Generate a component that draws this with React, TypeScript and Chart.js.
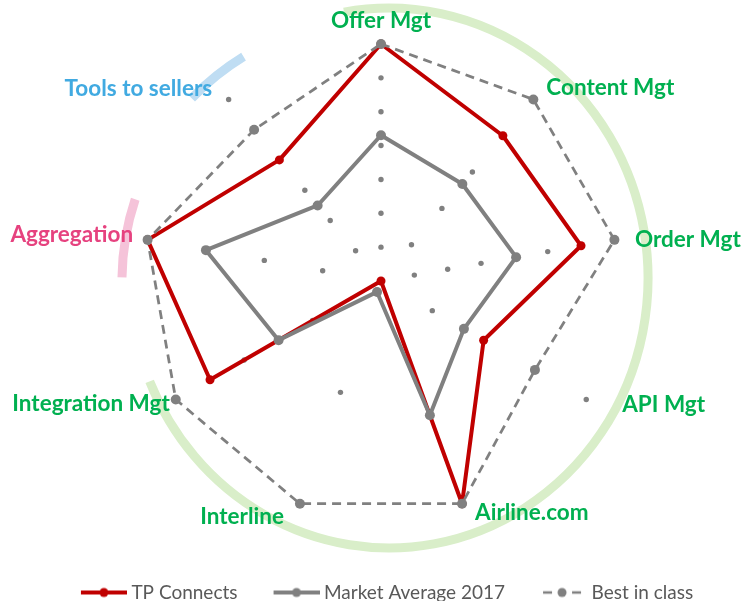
import React, { useEffect, useRef } from 'react';
import { Chart, registerables } from 'chart.js';

Chart.register(...registerables);

// ---- data ----
const categories = ['Offer Mgt', 'Content Mgt', 'Order Mgt', 'API Mgt', 'Airline.com', 'Interline', 'Integration Mgt', 'Aggregation', 'Tools to sellers'];
const tpConnects = [100, 80, 85.7, 50, 100, 0, 83.3, 100, 66.7];
const marketAverage2017 = [61.5, 53.4, 57.9, 40.4, 60.3, 4.9, 49.9, 75, 41.6];
const bestInClass = [100, 100, 100, 75, 100, 100, 100, 100, 83.3];
// number of scoring steps on each axis (dotted markers along the spokes)
const criteriaLevels = [7, 5, 7, 4, 1, 2, 3, 4, 6];
const seriesNames = ['TP Connects', 'Market Average 2017', 'Best in class'];

// ---- styles ----
const RED = '#C00000';
const GRAY = '#808080';
const GREEN = '#00B050';
const PINK = '#E6427F';
const BLUE = '#41AAE1';
const labelColors = [GREEN, GREEN, GREEN, GREEN, GREEN, GREEN, GREEN, PINK, BLUE];
// [textAlign, dx, dy] relative to the outer end of each spoke
const labelPlacement: [CanvasTextAlign, number, number][] = [
  ['center', 0, -23],
  ['left', 13, -11.5],
  ['left', 20.5, 0],
  ['left', 36, 5.5],
  ['left', 13, 9],
  ['right', -16, 13],
  ['right', -6, 4.5],
  ['right', -14.5, -5],
  ['right', -16.5, -10.5],
];
const decoArcs = [
  { color: '#D9EEC9', width: 9, ox: 8, oy: -3, rx: 1.093, ry: 1.139, from: -10, to: 247.5 },
  { color: '#BFDDF3', width: 9, ox: 0, oy: 0, rx: 1.11, ry: 1.11, from: 314, to: 328.5 },
  { color: '#F5C3D9', width: 9, ox: 0, oy: 0, rx: 1.093, ry: 1.093, from: 270.8, to: 288.4 },
];

// legend marker canvases: the visible marker sits in the right part of the image
const MARK_BOX = 53;
function legendMarker(kind: 'solid' | 'dashed', color: string) {
  const c = document.createElement('canvas');
  c.width = MARK_BOX + 10;
  c.height = 12;
  const ctx = c.getContext('2d')!;
  const end = kind === 'solid' ? c.width : c.width - 6;
  const start = kind === 'solid' ? end - 46 : end - 38;
  ctx.strokeStyle = color;
  ctx.fillStyle = color;
  ctx.beginPath();
  if (kind === 'solid') {
    ctx.lineWidth = 4;
    ctx.moveTo(start, 6);
    ctx.lineTo(end, 6);
  } else {
    ctx.lineWidth = 2.5;
    ctx.moveTo(start, 6);
    ctx.lineTo(start + 9, 6);
    ctx.moveTo(end - 9, 6);
    ctx.lineTo(end, 6);
  }
  ctx.stroke();
  ctx.beginPath();
  ctx.arc((start + end) / 2, 6, 4.5, 0, Math.PI * 2);
  ctx.fill();
  return c;
}

const decoArcsPlugin = {
  id: 'decoArcs',
  beforeDatasetsDraw(chart: any) {
    const s = chart.scales.r;
    const R = s.drawingArea;
    const ctx = chart.ctx;
    ctx.save();
    ctx.lineCap = 'butt';
    decoArcs.forEach((a) => {
      ctx.beginPath();
      ctx.ellipse(s.xCenter + a.ox, s.yCenter + a.oy, a.rx * R, a.ry * R, 0, ((a.from - 90) * Math.PI) / 180, ((a.to - 90) * Math.PI) / 180);
      ctx.lineWidth = a.width;
      ctx.strokeStyle = a.color;
      ctx.stroke();
    });
    ctx.restore();
  },
};

const categoryLabelsPlugin = {
  id: 'categoryLabels',
  afterDatasetsDraw(chart: any) {
    const s = chart.scales.r;
    const ctx = chart.ctx;
    ctx.save();
    ctx.font = 'bold 22.5px Lato';
    ctx.textBaseline = 'middle';
    (chart.data.labels as string[]).forEach((text, i) => {
      const p = s.getPointPositionForValue(i, s.max);
      const [align, dx, dy] = labelPlacement[i];
      ctx.textAlign = align;
      ctx.fillStyle = labelColors[i];
      ctx.fillText(text, p.x + dx, p.y + dy);
    });
    ctx.restore();
  },
};

export default function App() {
  const ref = useRef<HTMLCanvasElement | null>(null);

  useEffect(() => {
    document.body.style.margin = '0';
    document.body.style.overflow = 'hidden';
    if (!ref.current) return;

    const maxLevel = Math.max(...criteriaLevels);
    const levelSets = Array.from({ length: maxLevel }, (_, k) => ({
      label: 'level ' + (k + 1),
      data: criteriaLevels.map((n) => (k + 1 <= n ? ((k + 1) / n) * 100 : null)),
      showLine: false,
      fill: false,
      borderWidth: 0,
      borderColor: 'rgba(0,0,0,0)',
      pointRadius: 2.7,
      pointBorderWidth: 0,
      pointBackgroundColor: GRAY,
      order: 4,
    }));

    const markers = [legendMarker('solid', RED), legendMarker('solid', GRAY), legendMarker('dashed', GRAY)];

    const chart = new Chart(ref.current, {
      type: 'radar',
      data: {
        labels: categories,
        datasets: [
          {
            label: seriesNames[0],
            data: tpConnects,
            borderColor: RED,
            borderWidth: 4,
            borderJoinStyle: 'round',
            fill: false,
            pointRadius: 4.5,
            pointBorderWidth: 0,
            pointBackgroundColor: RED,
            order: 3,
          },
          {
            label: seriesNames[1],
            data: marketAverage2017,
            borderColor: GRAY,
            borderWidth: 4,
            borderJoinStyle: 'round',
            fill: false,
            pointRadius: 5,
            pointBorderWidth: 0,
            pointBackgroundColor: GRAY,
            order: 2,
          },
          {
            label: seriesNames[2],
            data: bestInClass,
            borderColor: GRAY,
            borderWidth: 2.75,
            borderDash: [9, 6],
            fill: false,
            pointRadius: 5,
            pointBorderWidth: 0,
            pointBackgroundColor: GRAY,
            order: 1,
          },
          ...levelSets,
        ] as any,
      },
      options: {
        responsive: false,
        animation: false,
        layout: { padding: { top: 44, left: 21, right: 0, bottom: -11 } },
        elements: { line: { tension: 0 } },
        scales: {
          r: {
            min: 0,
            max: 100,
            ticks: { display: false },
            grid: { display: false },
            angleLines: { display: false },
            pointLabels: { display: false },
          },
        },
        plugins: {
          tooltip: { enabled: false },
          legend: {
            position: 'bottom',
            title: { display: true, text: '', padding: { top: 27.5, bottom: 0 }, font: { size: 10 } },
            labels: {
              usePointStyle: true,
              pointStyleWidth: MARK_BOX,
              padding: 24,
              color: '#595959',
              font: { family: 'Lato', size: 19 },
              generateLabels: () =>
                seriesNames.map((name, i) => ({
                  text: name,
                  pointStyle: markers[i],
                  fillStyle: 'rgba(0,0,0,0)',
                  strokeStyle: 'rgba(0,0,0,0)',
                  lineWidth: 0,
                  hidden: false,
                  datasetIndex: i,
                  fontColor: '#595959',
                })) as any,
            },
          },
        },
      } as any,
      plugins: [decoArcsPlugin, categoryLabelsPlugin],
    });

    return () => chart.destroy();
  }, []);

  return (
    <div style={{ width: 741, height: 601, position: 'relative' }}>
      <canvas ref={ref} width={741} height={601} />
    </div>
  );
}
